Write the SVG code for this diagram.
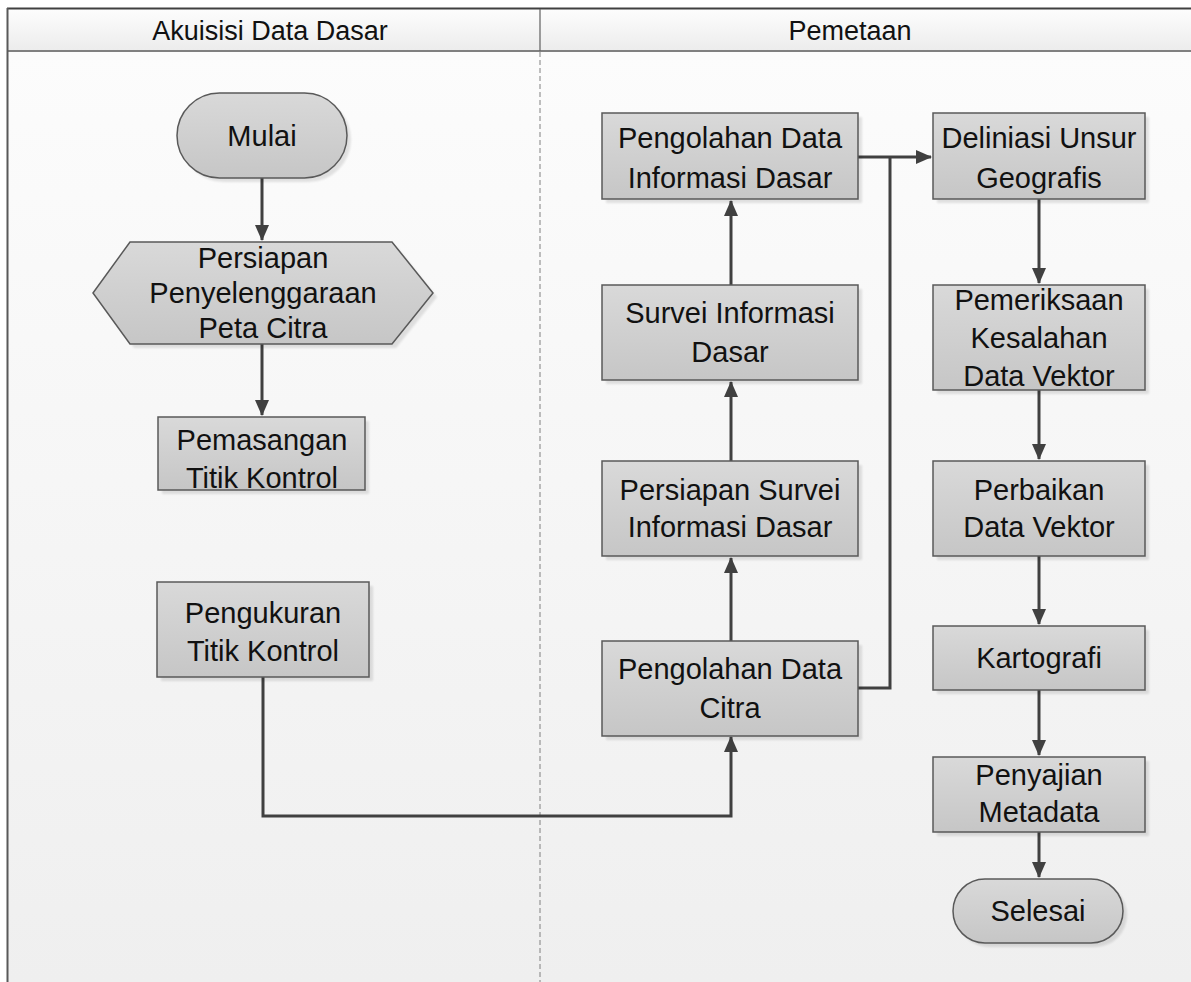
<svg xmlns="http://www.w3.org/2000/svg" width="1191" height="982" viewBox="0 0 1191 982">
<defs>
<linearGradient id="bg" x1="0" y1="0" x2="0" y2="1"><stop offset="0" stop-color="#fcfcfc"/><stop offset="1" stop-color="#efefef"/></linearGradient>
<linearGradient id="hd" x1="0" y1="0" x2="0" y2="1"><stop offset="0" stop-color="#fdfdfd"/><stop offset="1" stop-color="#ececec"/></linearGradient>
<linearGradient id="nf" x1="0" y1="0" x2="0" y2="1"><stop offset="0" stop-color="#d9d9d9"/><stop offset="1" stop-color="#c6c6c6"/></linearGradient>
<marker id="ah" viewBox="0 0 16 14" refX="15" refY="7" markerWidth="16" markerHeight="14" markerUnits="userSpaceOnUse" orient="auto"><path d="M0,0 L16,7 L0,14 Z" fill="#404040"/></marker>
<filter id="sh" x="-10%" y="-10%" width="130%" height="130%"><feGaussianBlur stdDeviation="1"/></filter>
</defs>
<style>
.n{fill:url(#nf);stroke:#595959;stroke-width:1.5}
.s{fill:#000;opacity:0.1;filter:url(#sh)}
.t{font-family:"Liberation Sans",Arial,sans-serif;font-size:29px;fill:#111;text-anchor:middle}
.h{font-family:"Liberation Sans",Arial,sans-serif;font-size:27px;fill:#111;text-anchor:middle}
.c{fill:none;stroke:#404040;stroke-width:3}
</style>
<rect x="0" y="0" width="1191" height="982" fill="#ffffff"/>
<rect x="8" y="51" width="1183" height="931" fill="url(#bg)"/>
<g id="header">
<rect x="8" y="9" width="1190" height="42" fill="url(#hd)"/>
<line x1="7" y1="8.5" x2="1191" y2="8.5" stroke="#404040" stroke-width="2"/>
<line x1="8" y1="51" x2="1191" y2="51" stroke="#808080" stroke-width="2"/>
<line x1="7.5" y1="8" x2="7.5" y2="982" stroke="#595959" stroke-width="2"/>
<line x1="540" y1="9" x2="540" y2="51" stroke="#606060" stroke-width="1.2"/>
<line x1="540" y1="52" x2="540" y2="982" stroke="#808080" stroke-width="1" stroke-dasharray="5,3"/>
<text class="h" x="270" y="40">Akuisisi Data Dasar</text>
<text class="h" x="850" y="40">Pemetaan</text>
</g>
<g id="connectors">
<path class="c" d="M262,178 V240" marker-end="url(#ah)"/>
<path class="c" d="M262,344 V415" marker-end="url(#ah)"/>
<path class="c" d="M263,677 V816 H731 V737" marker-end="url(#ah)"/>
<path class="c" d="M731,641 V558" marker-end="url(#ah)"/>
<path class="c" d="M731,461 V382" marker-end="url(#ah)"/>
<path class="c" d="M731,285 V201" marker-end="url(#ah)"/>
<path class="c" d="M858,157 H931" marker-end="url(#ah)"/>
<path class="c" d="M858,688 H890 V157"/>
<path class="c" d="M1039,199 V283" marker-end="url(#ah)"/>
<path class="c" d="M1039,390 V459" marker-end="url(#ah)"/>
<path class="c" d="M1039,556 V624" marker-end="url(#ah)"/>
<path class="c" d="M1039,690 V755" marker-end="url(#ah)"/>
<path class="c" d="M1039,832 V877" marker-end="url(#ah)"/>
</g>
<g id="mulai">
<rect class="s" x="181" y="97" width="170" height="85" rx="42.5"/>
<rect class="n" x="177" y="93" width="170" height="85" rx="42.5"/>
<text class="t" x="262" y="146">Mulai</text>
</g>
<g id="persiapan-penyelenggaraan">
<polygon class="s" points="97,297 134,246 396,246 437,297 396,348 134,348"/>
<polygon class="n" points="93,293 130,242 392,242 433,293 392,344 130,344"/>
<text class="t" x="263" y="268">Persiapan</text>
<text class="t" x="263" y="303">Penyelenggaraan</text>
<text class="t" x="263" y="338">Peta Citra</text>
</g>
<g id="pemasangan">
<rect class="s" x="162" y="421" width="207" height="73"/>
<rect class="n" x="158" y="417" width="207" height="73"/>
<text class="t" x="262" y="450">Pemasangan</text>
<text class="t" x="262" y="488">Titik Kontrol</text>
</g>
<g id="pengukuran">
<rect class="s" x="161" y="586" width="212" height="95"/>
<rect class="n" x="157" y="582" width="212" height="95"/>
<text class="t" x="263" y="623">Pengukuran</text>
<text class="t" x="263" y="661">Titik Kontrol</text>
</g>
<g id="pengolahan-citra">
<rect class="s" x="606" y="645" width="256" height="95"/>
<rect class="n" x="602" y="641" width="256" height="95"/>
<text class="t" x="730" y="679">Pengolahan Data</text>
<text class="t" x="730" y="718">Citra</text>
</g>
<g id="persiapan-survei">
<rect class="s" x="606" y="465" width="256" height="95"/>
<rect class="n" x="602" y="461" width="256" height="95"/>
<text class="t" x="730" y="500">Persiapan Survei</text>
<text class="t" x="730" y="537">Informasi Dasar</text>
</g>
<g id="survei">
<rect class="s" x="606" y="289" width="256" height="95"/>
<rect class="n" x="602" y="285" width="256" height="95"/>
<text class="t" x="730" y="323">Survei Informasi</text>
<text class="t" x="730" y="362">Dasar</text>
</g>
<g id="pengolahan-informasi">
<rect class="s" x="606" y="117" width="256" height="86"/>
<rect class="n" x="602" y="113" width="256" height="86"/>
<text class="t" x="730" y="148">Pengolahan Data</text>
<text class="t" x="730" y="188">Informasi Dasar</text>
</g>
<g id="deliniasi">
<rect class="s" x="937" y="117" width="212" height="86"/>
<rect class="n" x="933" y="113" width="212" height="86"/>
<text class="t" x="1039" y="148">Deliniasi Unsur</text>
<text class="t" x="1039" y="188">Geografis</text>
</g>
<g id="pemeriksaan">
<rect class="s" x="937" y="289" width="212" height="105"/>
<rect class="n" x="933" y="285" width="212" height="105"/>
<text class="t" x="1039" y="310">Pemeriksaan</text>
<text class="t" x="1039" y="348">Kesalahan</text>
<text class="t" x="1039" y="386">Data Vektor</text>
</g>
<g id="perbaikan">
<rect class="s" x="937" y="465" width="212" height="95"/>
<rect class="n" x="933" y="461" width="212" height="95"/>
<text class="t" x="1039" y="500">Perbaikan</text>
<text class="t" x="1039" y="537">Data Vektor</text>
</g>
<g id="kartografi">
<rect class="s" x="937" y="630" width="212" height="64"/>
<rect class="n" x="933" y="626" width="212" height="64"/>
<text class="t" x="1039" y="668">Kartografi</text>
</g>
<g id="penyajian">
<rect class="s" x="937" y="761" width="212" height="75"/>
<rect class="n" x="933" y="757" width="212" height="75"/>
<text class="t" x="1039" y="785">Penyajian</text>
<text class="t" x="1039" y="822">Metadata</text>
</g>
<g id="selesai">
<rect class="s" x="957" y="883" width="170" height="64" rx="32"/>
<rect class="n" x="953" y="879" width="170" height="64" rx="32"/>
<text class="t" x="1038" y="921">Selesai</text>
</g>
</svg>
